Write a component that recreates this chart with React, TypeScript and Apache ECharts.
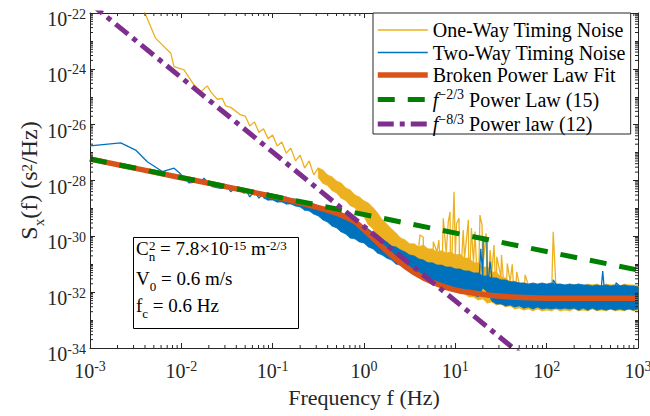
import React, { useEffect, useRef } from 'react';
import * as echarts from 'echarts';

const FONT = '"Liberation Serif", "Times New Roman", serif';
const AXIS_COLOR = '#262626';
const YELLOW = '#EDB120';
const BLUE = '#0072BD';
const ORANGE = '#D95319';
const GREEN = '#008000';
const PURPLE = '#7E2F8E';

// Frequencies (Hz) of the dense part of both spectra
const noiseFreq = [
  0.0501, 0.0562, 0.0631, 0.0708, 0.0794, 0.0891,
  0.1, 0.112, 0.126, 0.141, 0.158, 0.178, 0.2, 0.224, 0.251, 0.282, 0.316, 0.355, 0.398, 0.447, 0.501, 0.562, 0.631, 0.708, 0.794, 0.891,
  1, 1.12, 1.26, 1.41, 1.58, 1.78, 2.0, 2.24, 2.51, 2.82, 3.16, 3.55, 3.98, 4.47, 5.01, 5.62, 6.31, 7.08, 7.94, 8.91,
  10, 11.2, 12.6, 14.1, 15.8, 17.8, 20.0, 22.4, 25.1, 28.2, 31.6, 35.5, 39.8, 44.7, 50.1, 56.2, 63.1, 70.8, 79.4, 89.1,
  100, 112, 126, 141, 158, 178, 200, 224, 251, 282, 316, 355, 398, 447, 501, 562, 631, 708, 794, 891,
  1000,
];

// log10 of PSD (s^2/Hz)
// One-way timing noise: low-frequency samples
const oneWayLowFreq = [0.001, 0.0021, 0.0032, 0.004, 0.00524, 0.00766, 0.00832, 0.0107, 0.0138, 0.0163, 0.0192, 0.0213, 0.0248, 0.0281, 0.0306, 0.0347, 0.0378, 0.0447];
const oneWayLowExp = [-20.0, -20.6, -21.3, -22.01, -22.91, -23.44, -23.92, -24.04, -24.58, -24.82, -24.61, -24.85, -25.09, -25.06, -25.33, -25.38, -25.47, -25.65];
// One-way: upper / lower edge of the noise band at noiseFreq
const oneWayUpperExp = [
  -25.69, -25.76, -25.90, -25.98, -26.15, -26.19, -26.37, -26.44, -26.62, -26.66,
  -26.84, -26.91, -27.09, -27.16, -27.30, -27.37, -27.55, -27.62, -27.80, -27.87,
  -28.02, -28.09, -28.27, -28.34, -28.52, -28.59, -28.73, -28.81, -28.98, -29.16,
  -29.41, -29.56, -29.74, -29.88, -30.06, -30.13, -30.27, -30.27, -30.38, -30.31,
  -30.45, -30.45, -30.56, -30.52, -30.60, -30.56, -30.67, -30.63, -30.78, -30.78,
  -30.95, -30.95, -31.10, -31.10, -31.28, -31.28, -31.46, -31.49, -31.63, -31.60,
  -31.71, -31.67, -31.74, -31.71, -31.74, -31.71, -31.78, -31.71, -31.74, -31.71,
  -31.78, -31.71, -31.74, -31.71, -31.78, -31.71, -31.74, -31.71, -31.78, -31.71,
  -31.74, -31.74, -31.78, -31.71, -31.74, -31.74, -31.78,
];
const oneWayLowerExp = [
  -25.90, -26.05, -26.12, -26.28, -26.36, -26.50, -26.60, -26.76, -26.84, -27.02,
  -27.12, -27.30, -27.38, -27.55, -27.62, -27.80, -27.90, -28.10, -28.18, -28.36,
  -28.45, -28.63, -28.72, -28.90, -28.98, -29.20, -29.30, -29.59, -29.74, -30.02,
  -30.17, -30.42, -30.52, -30.74, -30.81, -31.03, -31.10, -31.28, -31.31, -31.49,
  -31.49, -31.67, -31.67, -31.81, -31.81, -31.96, -31.96, -32.06, -32.06, -32.17,
  -32.17, -32.28, -32.24, -32.39, -32.35, -32.46, -32.42, -32.53, -32.49, -32.60,
  -32.57, -32.64, -32.60, -32.67, -32.60, -32.67, -32.64, -32.67, -32.60, -32.67,
  -32.64, -32.67, -32.60, -32.67, -32.64, -32.67, -32.60, -32.67, -32.64, -32.67,
  -32.60, -32.67, -32.64, -32.67, -32.60, -32.67, -32.64,
];
const oneWaySpikeFreq = [4.1, 4.46, 5.74, 6.6, 7.38, 8.37, 8.75, 9.68, 10.3, 10.97, 12.2, 13.9, 15.0, 16.4, 18.6, 19.6, 21.7, 24.0, 26.5, 28.4, 32.0, 37.1, 42.0, 47.0, 58.0, 118];
const oneWaySpikeExp = [-29.95, -30.03, -30.19, -30.13, -29.35, -29.48, -29.12, -28.40, -29.55, -29.35, -29.77, -29.41, -29.70, -29.83, -29.24, -29.60, -29.89, -30.49, -30.31, -30.73, -30.67, -30.97, -31.00, -31.27, -31.38, -29.84];

// Two-way timing noise
const twoWayLowFreq = [0.001, 0.00217, 0.00316, 0.00424, 0.00619, 0.00832, 0.00984, 0.0121, 0.0163, 0.0177, 0.0192, 0.0218, 0.027, 0.0319, 0.0347, 0.041, 0.0485];
const twoWayLowExp = [-26.76, -26.65, -26.91, -27.33, -27.68, -27.56, -27.77, -28.08, -28.04, -27.92, -28.04, -28.22, -28.28, -28.22, -28.40, -28.22, -28.46];
const twoWayUpperExp = [
  -28.30, -28.30, -28.38, -28.38, -28.45, -28.45, -28.52, -28.52, -28.59, -28.59,
  -28.66, -28.66, -28.73, -28.73, -28.81, -28.84, -28.91, -28.95, -29.06, -29.06,
  -29.16, -29.20, -29.31, -29.34, -29.45, -29.52, -29.66, -29.74, -29.88, -29.95,
  -30.13, -30.20, -30.35, -30.38, -30.49, -30.56, -30.67, -30.70, -30.81, -30.85,
  -30.95, -30.95, -31.03, -31.03, -31.10, -31.10, -31.17, -31.17, -31.24, -31.24,
  -31.31, -31.31, -31.42, -31.42, -31.49, -31.49, -31.56, -31.56, -31.63, -31.63,
  -31.67, -31.67, -31.71, -31.67, -31.71, -31.67, -31.71, -31.67, -31.71, -31.71,
  -31.74, -31.71, -31.74, -31.71, -31.74, -31.74, -31.78, -31.74, -31.78, -31.74,
  -31.78, -31.74, -31.78, -31.74, -31.78, -31.78, -31.81,
];
const twoWayLowerExp = [
  -28.55, -28.59, -28.55, -28.63, -28.63, -28.70, -28.70, -28.77, -28.77, -28.84,
  -28.84, -28.91, -28.95, -29.06, -29.09, -29.20, -29.27, -29.41, -29.49, -29.63,
  -29.70, -29.84, -29.92, -30.06, -30.09, -30.20, -30.24, -30.38, -30.45, -30.60,
  -30.67, -30.78, -30.85, -30.99, -31.03, -31.17, -31.24, -31.35, -31.42, -31.53,
  -31.60, -31.71, -31.74, -31.81, -31.81, -31.89, -31.92, -31.99, -31.99, -32.06,
  -32.10, -32.17, -31.85, -31.99, -32.32, -32.42, -32.42, -32.49, -32.46, -32.53,
  -32.49, -32.57, -32.53, -32.60, -32.53, -32.60, -32.57, -32.60, -32.57, -32.60,
  -32.57, -32.60, -32.57, -32.64, -32.57, -32.64, -32.57, -32.64, -32.60, -32.64,
  -32.60, -32.64, -32.60, -32.64, -32.60, -32.64, -32.60,
];
const twoWaySpikeFreq = [19.0, 20.2, 21.0, 22.2, 24.0, 118, 411, 574];
const twoWaySpikeExp = [-30.45, -29.99, -30.2, -30.13, -30.9, -31.56, -31.24, -31.66];

// Broken power law fit
const fitFreq = [0.001, 0.01, 0.0316, 0.1, 0.2, 0.316, 0.5, 0.631, 0.794, 1, 1.32, 2.19, 3.62, 5.98, 9.91, 16.4, 31.6, 63.1, 158, 1000];
const fitExp = [-27.23, -27.9, -28.23, -28.57, -28.8, -28.97, -29.17, -29.31, -29.47, -29.76, -30.13, -30.79, -31.32, -31.68, -31.92, -32.04, -32.15, -32.2, -32.22, -32.22];

// Reference power laws (end points)
const law23Freq = [0.001, 1000];
const law23Psd = [5.9e-28, 6.2e-32];
const law83Freq = [0.001, 100];
const law83Psd = [2.24e-22, 1.05e-35];

// Axis ranges, labelled exponents and minor-tick mantissas
const X_MIN = 1e-3, X_MAX = 1e3, Y_MIN = 1e-34, Y_MAX = 1e-22;
const Y_EXP_MIN = -34, Y_EXP_MAX = -22, Y_EXP_STEP = 2;
const minorMantissas = [2, 3, 4, 5, 6, 7, 8, 9];
const xDecades = [-3, -2, -1, 0, 1, 2];
const yDecades = [-34, -33, -32, -31, -30, -29, -28, -27, -26, -25, -24, -23];

// Where each band (filled noise region) begins, as index into noiseFreq
const ONE_WAY_BAND_START = 16;
const TWO_WAY_BAND_START = 4;

const legendNames = ['One-Way Timing Noise', 'Two-Way Timing Noise', 'Broken Power Law Fit', 'f^{-2/3} Power Law (15)', 'f^{-8/3} Power law (12)'];

const p10 = (e: number) => Math.pow(10, e);

function noiseLine(lowF: number[], lowE: number[], up: number[], lo: number[], spF: number[], spE: number[]) {
  const pts: number[][] = [];
  lowF.forEach((f, i) => pts.push([f, p10(lowE[i])]));
  noiseFreq.forEach((f, i) => pts.push([f, p10(i % 2 === 0 ? up[i] : lo[i])]));
  spF.forEach((f, i) => pts.push([f, p10(spE[i])]));
  pts.sort((a, b) => a[0] - b[0]);
  return pts;
}

function bandSeries(name: string, up: number[], lo: number[], start: number, color: string, z: number) {
  return {
    type: 'custom',
    name,
    silent: true,
    z,
    data: [[noiseFreq[start], p10(up[start])]],
    renderItem: (_params: any, api: any) => {
      const pts: number[][] = [];
      for (let i = start; i < noiseFreq.length; i++) pts.push(api.coord([noiseFreq[i], p10(up[i])]));
      for (let i = noiseFreq.length - 1; i >= start; i--) pts.push(api.coord([noiseFreq[i], p10(lo[i])]));
      return { type: 'polygon', shape: { points: pts }, style: { fill: color, stroke: color, lineWidth: 0.8 } };
    },
  };
}

const xMinor: number[] = [];
xDecades.forEach((d) => minorMantissas.forEach((m) => xMinor.push(m * p10(d))));
const yMinor: number[] = [];
yDecades.forEach((d) => minorMantissas.forEach((m) => yMinor.push(m * p10(d))));

const supRich = {
  b: { fontFamily: FONT, fontSize: 20, lineHeight: 24, color: AXIS_COLOR, verticalAlign: 'middle' },
  s: { fontFamily: FONT, fontSize: 14, lineHeight: 14, color: AXIS_COLOR, verticalAlign: 'top' },
};

const annRich = {
  b: { fontFamily: FONT, fontSize: 19, lineHeight: 24, verticalAlign: 'middle', fill: '#000' },
  sub: { fontFamily: FONT, fontSize: 13, lineHeight: 14, padding: [17, 0, 0, 0], fill: '#000' },
  sup: { fontFamily: FONT, fontSize: 13, lineHeight: 14, padding: [3, 0, 0, 0], verticalAlign: 'top', fill: '#000' },
};

const axisLineStyle = { show: true, onZero: false, lineStyle: { color: AXIS_COLOR, width: 1 } };
const axisTickStyle = { show: true, inside: true, length: 5, lineStyle: { color: AXIS_COLOR, width: 1 } };
const minorTickStyle = { show: true, splitNumber: 2, length: 3, lineStyle: { color: AXIS_COLOR, width: 1 } };

function buildOption() {
  const thin = { width: 1.3 };
  return {
    animation: false,
    backgroundColor: '#fff',
    grid: { left: 90, right: 12, top: 13, bottom: 68, containLabel: false, outerBoundsMode: 'none' },
    xAxis: [
      {
        type: 'log', logBase: 10, gridIndex: 0, position: 'bottom', min: X_MIN, max: X_MAX,
        splitLine: { show: false }, axisLine: axisLineStyle, axisTick: axisTickStyle,
        axisLabel: { formatter: (v: number) => `{b|10}{s|${Math.round(Math.log10(v))}}`, rich: supRich, margin: 11 },
        name: 'Frequency f (Hz)', nameLocation: 'middle', nameGap: 36, nameMoveOverlap: false,
        nameTextStyle: { fontFamily: FONT, fontSize: 22, lineHeight: 26, color: AXIS_COLOR },
      },
      {
        type: 'log', logBase: 10, gridIndex: 0, position: 'top', min: X_MIN, max: X_MAX,
        splitLine: { show: false }, axisLine: axisLineStyle, axisTick: axisTickStyle, axisLabel: { show: false },
      },
    ],
    yAxis: [
      // data axis (logarithmic), drawn by the two exponent axes below
      { type: 'log', logBase: 10, gridIndex: 0, min: Y_MIN, max: Y_MAX, show: false },
      {
        type: 'value', gridIndex: 0, position: 'left', min: Y_EXP_MIN, max: Y_EXP_MAX, interval: Y_EXP_STEP,
        splitLine: { show: false }, axisLine: axisLineStyle, axisTick: axisTickStyle, minorTick: minorTickStyle,
        axisLabel: { formatter: (v: number) => `{b|10}{s|${v}}`, rich: supRich, margin: 4, padding: [12, 0, 0, 0] },
        name: '{b|S}{sub|x}{b|(f) (s}{sup|2}{b|/Hz)}',
        nameLocation: 'middle',
        nameRotate: 90,
        nameGap: 47,
        nameMoveOverlap: false,
        nameTextStyle: {
          rich: {
            b: { fontFamily: FONT, fontSize: 24, lineHeight: 28, verticalAlign: 'middle', color: AXIS_COLOR },
            sub: { fontFamily: FONT, fontSize: 15, lineHeight: 16, padding: [20, 0, 0, 0], color: AXIS_COLOR },
            sup: { fontFamily: FONT, fontSize: 15, lineHeight: 16, padding: [4, 0, 0, 0], verticalAlign: 'top', color: AXIS_COLOR },
          },
        },
      },
      {
        type: 'value', gridIndex: 0, position: 'right', min: Y_EXP_MIN, max: Y_EXP_MAX, interval: Y_EXP_STEP,
        splitLine: { show: false }, axisLine: axisLineStyle, axisTick: axisTickStyle, minorTick: minorTickStyle,
        axisLabel: { show: false },
      },
    ],
    legend: {
      data: legendNames,
      z: 20,
      orient: 'vertical',
      left: 373,
      top: 13,
      itemWidth: 50,
      itemHeight: 14,
      itemGap: 2.5,
      padding: [7, 5, 0, 2],
      backgroundColor: '#fff',
      borderColor: AXIS_COLOR,
      borderWidth: 1,
      borderRadius: 0,
      selectedMode: false,
      itemStyle: { color: 'rgba(0,0,0,0)', borderWidth: 0, opacity: 0 },
      lineStyle: { width: 'inherit' },
      formatter: (name: string) => {
        if (name.startsWith('f^{-2/3}')) return '{i|f}{sup|\u22122/3}{t| Power Law (15)}';
        if (name.startsWith('f^{-8/3}')) return '{i|f}{sup|\u22128/3}{t| Power law (12)}';
        return `{t|${name}}`;
      },
      textStyle: {
        fontFamily: FONT,
        fontSize: 20,
        color: '#000',
        rich: {
          t: { fontFamily: FONT, fontSize: 20, lineHeight: 24, verticalAlign: 'middle', color: '#000' },
          i: { fontFamily: FONT, fontSize: 20, lineHeight: 24, fontStyle: 'italic', verticalAlign: 'middle', color: '#000' },
          sup: { fontFamily: FONT, fontSize: 14, lineHeight: 12, verticalAlign: 'top', color: '#000' },
        },
      },
    },
    graphic: [
      { type: 'rect', z: 100, shape: { x: 133.5, y: 237.5, width: 165, height: 91 }, style: { fill: '#fff', stroke: '#000', lineWidth: 1 } },
      { type: 'text', z: 101, x: 136, y: 236, style: { text: '{b|C}{sub|n}{b| = 7.8\u00d710}{sup|-15}{b| m}{sup|-2/3}', rich: annRich, fill: '#000' } },
      { type: 'text', z: 101, x: 149, y: 238.5, style: { text: '2', fontFamily: FONT, fontSize: 13, fill: '#000' } },
      { type: 'text', z: 101, x: 136, y: 266, style: { text: '{b|V}{sub|0}{b| = 0.6 m/s}', rich: annRich, fill: '#000' } },
      { type: 'text', z: 101, x: 136, y: 293, style: { text: '{b|f}{sub|c}{b| = 0.6 Hz}', rich: annRich, fill: '#000' } },
    ],
    series: [
      bandSeries('oneWayBand', oneWayUpperExp, oneWayLowerExp, ONE_WAY_BAND_START, YELLOW, 2),
      {
        type: 'line', name: legendNames[0], z: 3, symbol: 'none', showSymbol: false, color: YELLOW,
        lineStyle: { color: YELLOW, ...thin },
        data: noiseLine(oneWayLowFreq, oneWayLowExp, oneWayUpperExp, oneWayLowerExp, oneWaySpikeFreq, oneWaySpikeExp),
      },
      bandSeries('twoWayBand', twoWayUpperExp, twoWayLowerExp, TWO_WAY_BAND_START, BLUE, 4),
      {
        type: 'line', name: legendNames[1], z: 5, symbol: 'none', showSymbol: false, color: BLUE,
        lineStyle: { color: BLUE, ...thin },
        data: noiseLine(twoWayLowFreq, twoWayLowExp, twoWayUpperExp, twoWayLowerExp, twoWaySpikeFreq, twoWaySpikeExp),
      },
      {
        type: 'line', name: legendNames[2], z: 6, symbol: 'none', showSymbol: false, color: ORANGE, smooth: 0.25,
        lineStyle: { color: ORANGE, width: 5.5 },
        data: fitFreq.map((f, i) => [f, p10(fitExp[i])]),
      },
      {
        type: 'line', name: legendNames[3], z: 7, symbol: 'none', showSymbol: false, color: GREEN,
        lineStyle: { color: GREEN, width: 5, type: [17, 13] },
        data: law23Freq.map((f, i) => [f, law23Psd[i]]),
      },
      {
        type: 'line', name: legendNames[4], z: 8, symbol: 'none', showSymbol: false, color: PURPLE,
        lineStyle: { color: PURPLE, width: 5, type: [16, 6, 5, 6] },
        data: law83Freq.map((f, i) => [f, law83Psd[i]]),
      },
      {
        type: 'custom', name: 'xMinorTicks', silent: true, z: 9,
        data: xMinor.map((v) => [v, 1e-30]),
        renderItem: (params: any, api: any) => {
          const cs = params.coordSys;
          const x = api.coord([api.value(0), 1e-30])[0];
          const b = cs.y + cs.height;
          return {
            type: 'group',
            children: [
              { type: 'line', shape: { x1: x, y1: b, x2: x, y2: b - 3 }, style: { stroke: AXIS_COLOR, lineWidth: 1 } },
              { type: 'line', shape: { x1: x, y1: cs.y, x2: x, y2: cs.y + 3 }, style: { stroke: AXIS_COLOR, lineWidth: 1 } },
            ],
          };
        },
      },
      {
        type: 'custom', name: 'yMinorTicks', silent: true, z: 9,
        data: yMinor.map((v) => [1, v]),
        renderItem: (params: any, api: any) => {
          const cs = params.coordSys;
          const y = api.coord([1, api.value(1)])[1];
          const r = cs.x + cs.width;
          return {
            type: 'group',
            children: [
              { type: 'line', shape: { x1: cs.x, y1: y, x2: cs.x + 3, y2: y }, style: { stroke: AXIS_COLOR, lineWidth: 1 } },
              { type: 'line', shape: { x1: r, y1: y, x2: r - 3, y2: y }, style: { stroke: AXIS_COLOR, lineWidth: 1 } },
            ],
          };
        },
      },
    ],
  };
}

export default function App() {
  const ref = useRef<HTMLDivElement>(null);
  useEffect(() => {
    if (!ref.current) return;
    const chart = echarts.init(ref.current, null, { renderer: 'svg', width: 650, height: 416 });
    chart.setOption(buildOption() as any);
    return () => chart.dispose();
  }, []);
  return <div ref={ref} style={{ position: 'fixed', left: 0, top: 0, width: 650, height: 416, background: '#fff' }} />;
}
